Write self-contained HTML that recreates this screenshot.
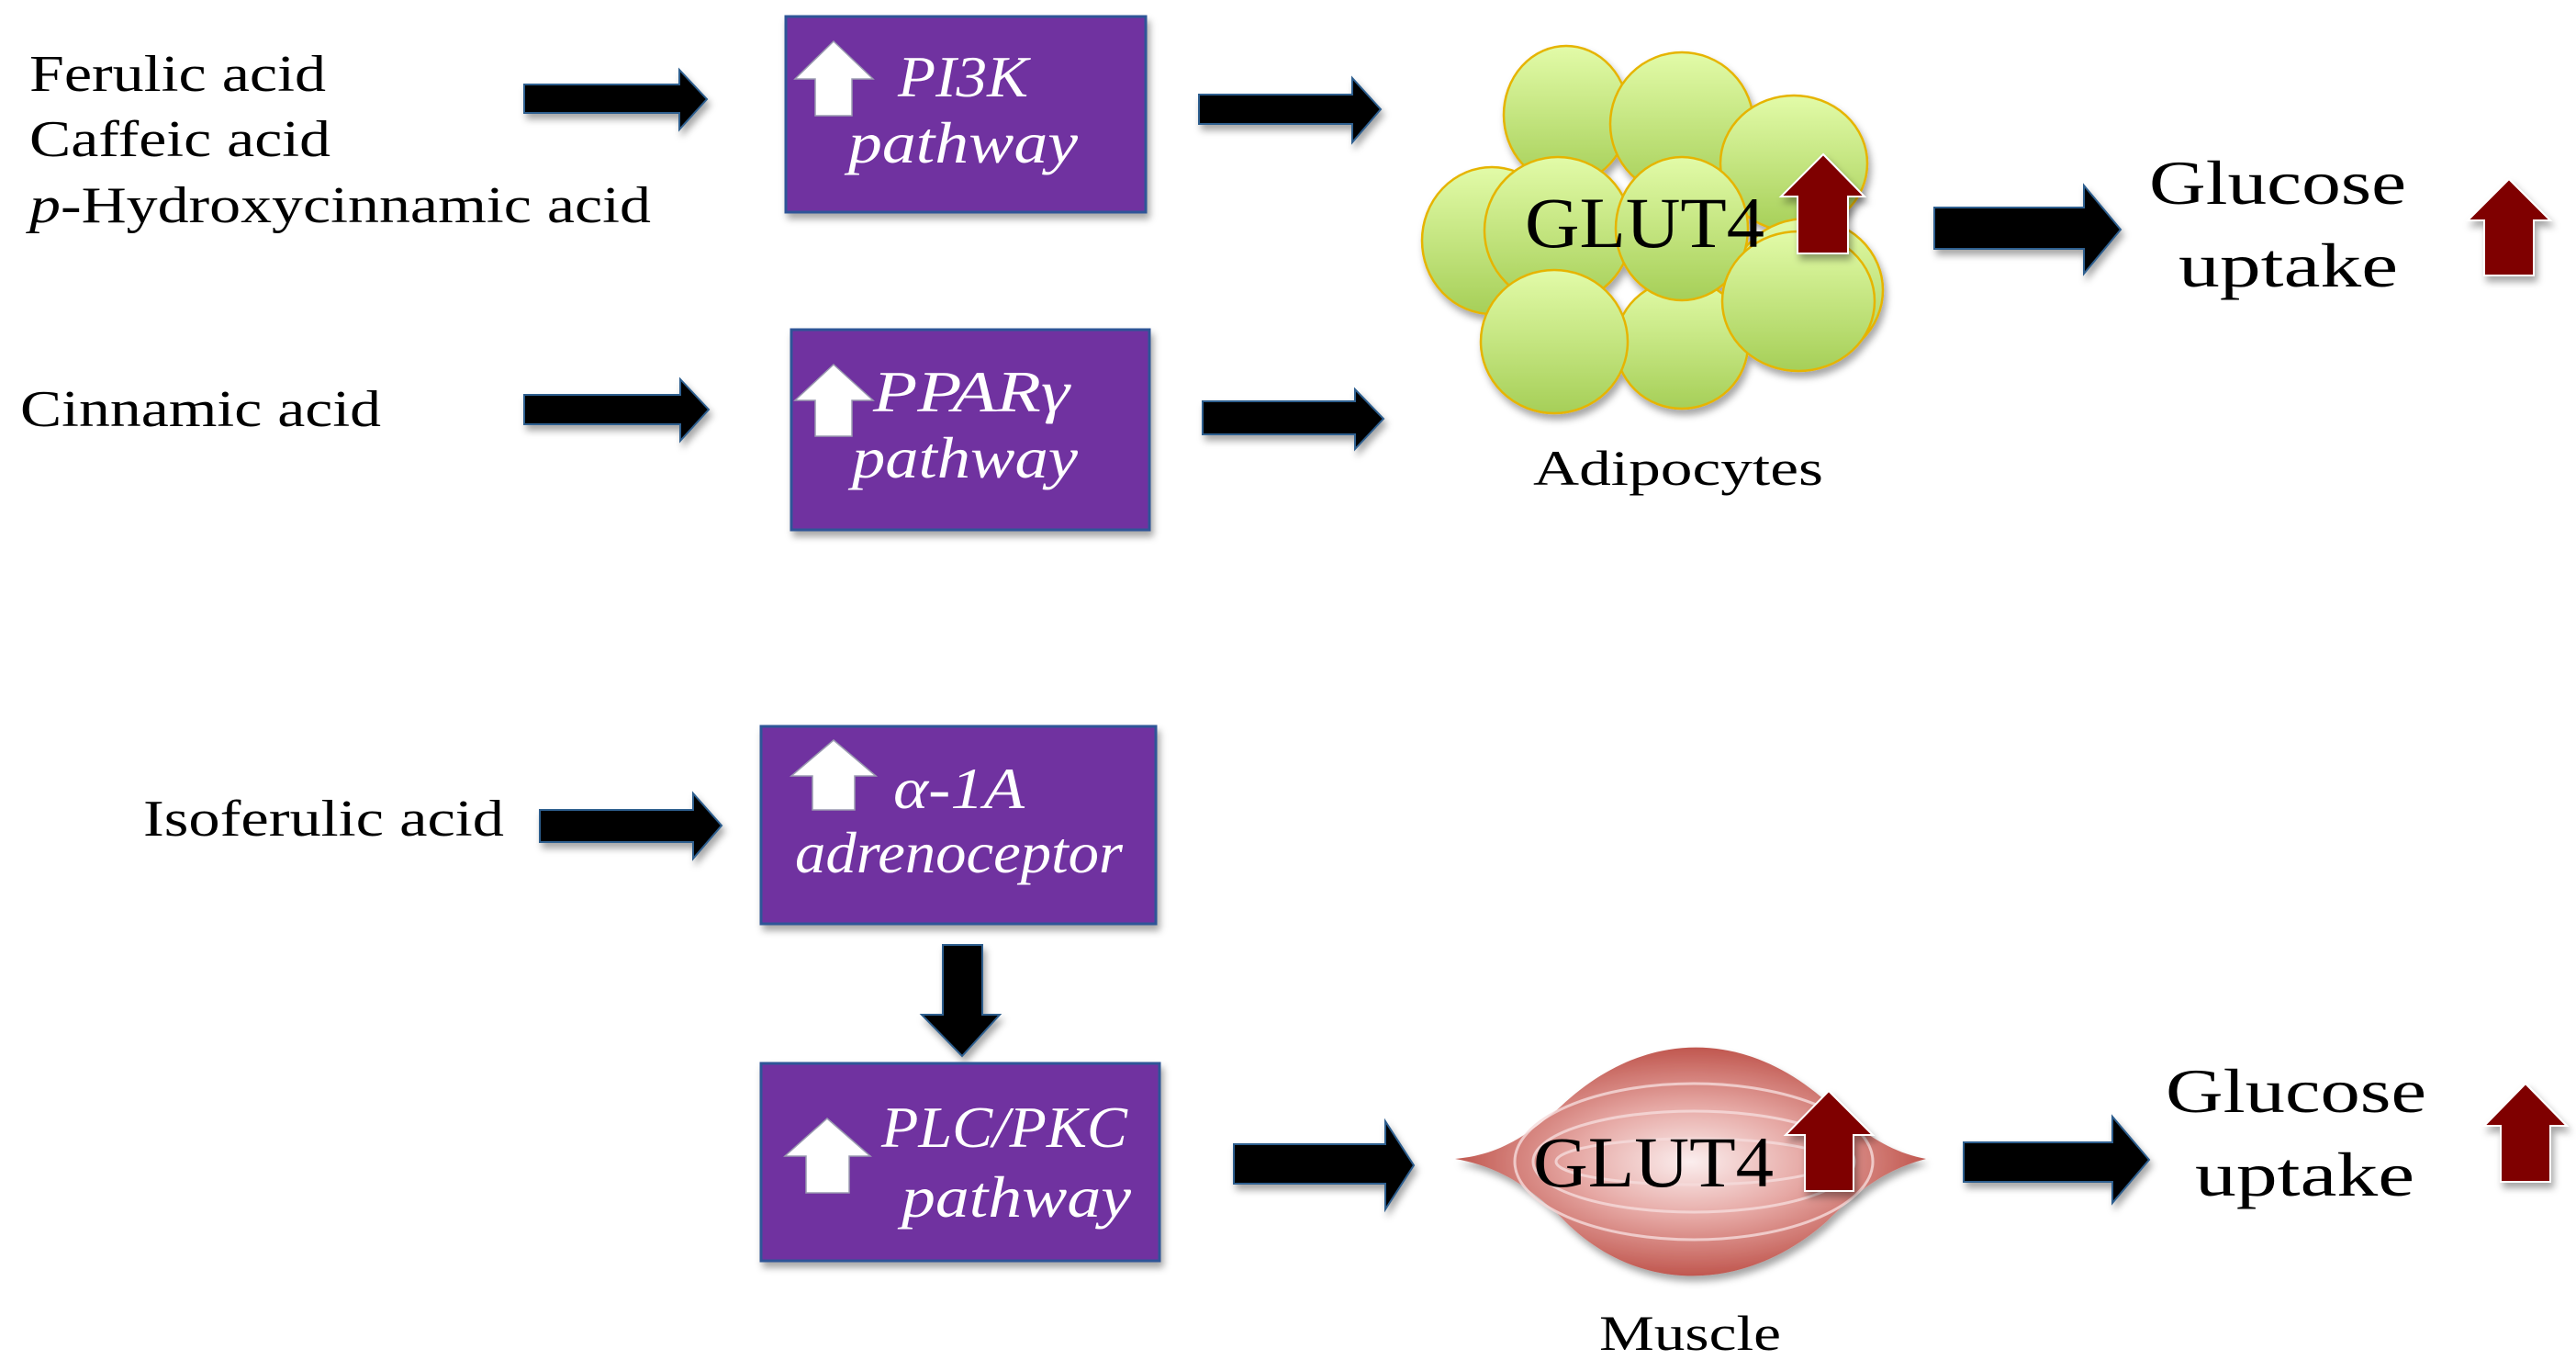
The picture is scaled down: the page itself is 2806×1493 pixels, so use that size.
<!DOCTYPE html>
<html><head><meta charset="utf-8"><style>html,body{margin:0;padding:0;background:#fff}svg{display:block}</style></head>
<body>
<svg width="2806" height="1493" viewBox="0 0 2806 1493" xmlns="http://www.w3.org/2000/svg" font-family="'Liberation Serif', serif">
<defs>
<linearGradient id="cell" x1="0" y1="0" x2="0" y2="1"><stop offset="0" stop-color="#e2fba8"/><stop offset="1" stop-color="#a6cf58"/></linearGradient>
<radialGradient id="mus" cx="0.5" cy="0.5" r="0.55"><stop offset="0" stop-color="#fbeeee"/><stop offset="0.45" stop-color="#e6a8a4"/><stop offset="1" stop-color="#b9473e"/></radialGradient>
<filter id="sh" x="-10%" y="-10%" width="130%" height="130%"><feDropShadow dx="3" dy="6" stdDeviation="4" flood-color="#000" flood-opacity="0.35"/></filter>
</defs>
<g fill="#000" font-size="56">
<text x="32" y="99" textLength="323" lengthAdjust="spacingAndGlyphs">Ferulic acid</text>
<text x="32" y="170" textLength="328" lengthAdjust="spacingAndGlyphs">Caffeic acid</text>
<text x="32" y="242" textLength="677" lengthAdjust="spacingAndGlyphs"><tspan font-style="italic">p</tspan>-Hydroxycinnamic acid</text>
<text x="22" y="464" textLength="393" lengthAdjust="spacingAndGlyphs">Cinnamic acid</text>
<text x="156" y="910" textLength="393" lengthAdjust="spacingAndGlyphs">Isoferulic acid</text>
</g>
<g fill="#000" stroke="#2e5f8f" stroke-width="2" filter="url(#sh)">
<polygon points="571,92 740,92 740,76 770,108 740,141 740,123 571,123"/>
<polygon points="1306,103 1473,103 1473,85 1504,119 1473,155 1473,135 1306,135"/>
<polygon points="571,430 741,430 741,413 772,446 741,480 741,462 571,462"/>
<polygon points="1310,437 1476,437 1476,424 1507,456 1476,489 1476,473 1310,473"/>
<polygon points="588,882 755,882 755,864 786,899 755,935 755,917 588,917"/>
<polygon points="1027,1029 1070,1029 1070,1105 1089,1105 1048,1150 1004,1105 1027,1105"/>
<polygon points="1344,1246 1509,1246 1509,1221 1540,1269 1509,1317 1509,1289 1344,1289"/>
<polygon points="2107,226 2270,226 2270,202 2310,250 2270,298 2270,271 2107,271"/>
<polygon points="2139,1244 2301,1244 2301,1216 2341,1263 2301,1310 2301,1287 2139,1287"/>
</g>
<g fill="#7030a0" stroke="#2f5597" stroke-width="3" filter="url(#sh)">
<rect x="856" y="18" width="392" height="213"/>
<rect x="862" y="359" width="390" height="218"/>
<rect x="829" y="791" width="430" height="215"/>
<rect x="829" y="1158" width="434" height="215"/>
</g>
<g fill="#fff" stroke="#9a9ab0" stroke-width="1.5">
<polygon points="908,45 951,86 928,86 928,126 888,126 888,86 866,86"/>
<polygon points="908,397 951,436 928,436 928,475 888,475 888,436 866,436"/>
<polygon points="908,806 954,845 931,845 931,882 885,882 885,845 862,845"/>
<polygon points="901,1218 948,1259 925,1259 925,1299 878,1299 878,1259 855,1259"/>
</g>
<g fill="#fff" font-style="italic" font-size="64">
<text x="978" y="105" textLength="142" lengthAdjust="spacingAndGlyphs">PI3K</text>
<text x="924" y="177" textLength="250" lengthAdjust="spacingAndGlyphs">pathway</text>
<text x="951" y="448" textLength="214" lengthAdjust="spacingAndGlyphs">PPARγ</text>
<text x="928" y="520" textLength="246" lengthAdjust="spacingAndGlyphs">pathway</text>
<text x="973" y="880" textLength="143" lengthAdjust="spacingAndGlyphs">α-1A</text>
<text x="866" y="950" textLength="357" lengthAdjust="spacingAndGlyphs">adrenoceptor</text>
<text x="960" y="1249" textLength="268" lengthAdjust="spacingAndGlyphs">PLC/PKC</text>
<text x="982" y="1325" textLength="250" lengthAdjust="spacingAndGlyphs">pathway</text>
</g>
<g fill="url(#cell)" stroke="#e6b400" stroke-width="2.5" filter="url(#sh)">
<ellipse cx="1706" cy="125" rx="68" ry="75"/>
<ellipse cx="1832" cy="135" rx="78" ry="78"/>
<ellipse cx="1954" cy="178" rx="80" ry="74"/>
<ellipse cx="1625" cy="262" rx="76" ry="80"/>
<ellipse cx="1968" cy="316" rx="83" ry="78"/>
<ellipse cx="1832" cy="375" rx="72" ry="70"/>
<ellipse cx="1697" cy="251" rx="80" ry="80"/>
<ellipse cx="1832" cy="249" rx="72" ry="78"/>
<ellipse cx="1959" cy="328" rx="83" ry="76"/>
<ellipse cx="1693" cy="372" rx="80" ry="78"/>
</g>
<text x="1661" y="269" font-size="78" textLength="261" lengthAdjust="spacingAndGlyphs">GLUT4</text>
<path d="M1585,1262 C1630,1258 1660,1240 1700,1205 C1790,1120 1900,1120 1990,1200 C2030,1235 2060,1255 2098,1262 C2060,1272 2030,1290 1990,1330 C1900,1410 1780,1410 1700,1325 C1660,1288 1630,1270 1585,1262 Z" fill="url(#mus)" filter="url(#sh)"/>
<g fill="none" stroke="#f6dcdc" stroke-width="3" opacity="0.8">
<ellipse cx="1845" cy="1265" rx="150" ry="25"/>
<ellipse cx="1845" cy="1265" rx="175" ry="55"/>
<ellipse cx="1845" cy="1265" rx="195" ry="85"/>
</g>
<text x="1670" y="1292" font-size="78" textLength="262" lengthAdjust="spacingAndGlyphs">GLUT4</text>
<g fill="#7f0000" stroke="#fff" stroke-width="2" filter="url(#sh)">
<polygon points="1986,168 2031,214 2013,214 2013,276 1958,276 1958,214 1940,214"/>
<polygon points="2733,195 2778,240 2760,240 2760,300 2706,300 2706,240 2688,240"/>
<polygon points="1992,1188 2040,1236 2019,1236 2019,1297 1966,1297 1966,1236 1945,1236"/>
<polygon points="2751,1180 2796,1226 2778,1226 2778,1287 2724,1287 2724,1226 2706,1226"/>
</g>
<g fill="#000">
<text x="2341" y="222" font-size="68" textLength="280" lengthAdjust="spacingAndGlyphs">Glucose</text>
<text x="2373" y="312" font-size="68" textLength="239" lengthAdjust="spacingAndGlyphs">uptake</text>
<text x="2359" y="1211" font-size="68" textLength="284" lengthAdjust="spacingAndGlyphs">Glucose</text>
<text x="2391" y="1302" font-size="68" textLength="239" lengthAdjust="spacingAndGlyphs">uptake</text>
<text x="1670" y="528" font-size="54" textLength="316" lengthAdjust="spacingAndGlyphs">Adipocytes</text>
<text x="1742" y="1470" font-size="54" textLength="198" lengthAdjust="spacingAndGlyphs">Muscle</text>
</g>
</svg>
</body></html>
